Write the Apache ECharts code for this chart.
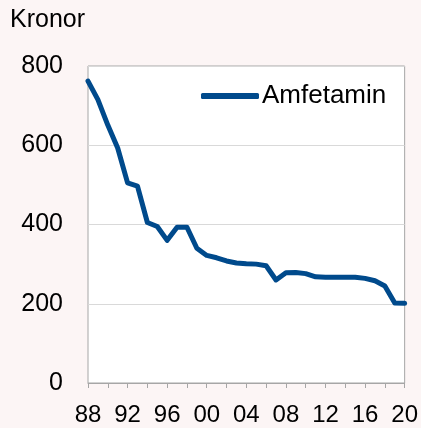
<!DOCTYPE html>
<html>
<head>
<meta charset="utf-8">
<script src="https://cdn.jsdelivr.net/npm/echarts@6/dist/echarts.min.js"></script>
<style>
html,body{margin:0;padding:0;background:#fcf5f5;}
#c{width:421px;height:428px;}
</style>
</head>
<body>
<div id="c"></div>
<script>
const years = [1988,1989,1990,1991,1992,1993,1994,1995,1996,1997,1998,1999,2000,2001,2002,2003,2004,2005,2006,2007,2008,2009,2010,2011,2012,2013,2014,2015,2016,2017,2018,2019,2020];
const amfetamin = [762,715,651,593,505,497,405,395,360,393,393,340,322,316,308,303,301,300,296,260,278,279,276,268,267,267,267,267,264,258,245,202,201];
const yTicks = [0,200,400,600,800];
const seriesName = 'Amfetamin';

const chart = echarts.init(document.getElementById('c'), null, {renderer:'canvas'});
const font = 'Liberation Sans, Arial, sans-serif';
chart.setOption({
  backgroundColor: '#fcf5f5',
  animation: false,
  textStyle: {fontFamily: font},
  title: {
    text: 'Kronor', left: 10, top: 8, padding: 0,
    textStyle: {fontSize: 25, fontWeight: 'normal', color: '#000', fontFamily: font}
  },
  legend: {
    left: 196, top: 78,
    data: [seriesName],
    icon: 'roundRect',
    itemWidth: 58, itemHeight: 6,
    itemGap: 4,
    textStyle: {fontSize: 26, color: '#000', fontFamily: font, padding: [0,0,0,-2]}
  },
  grid: {
    left: 88, right: 16, top: 66, bottom: 45,
    show: true, backgroundColor: '#fff', borderColor: '#a6a6a6', borderWidth: 1
  },
  xAxis: {
    type: 'value', min: 1988, max: 2020, interval: 2,
    axisLine: {show: true, lineStyle: {color: '#a6a6a6'}},
    axisTick: {show: true, length: 5, lineStyle: {color: '#a6a6a6'}},
    splitLine: {show: false},
    axisLabel: {
      fontSize: 24, color: '#000', margin: 20, fontFamily: font,
      formatter: v => (v % 4 === 0 ? String(v % 100).padStart(2, '0') : '')
    }
  },
  yAxis: {
    type: 'value', min: yTicks[0], max: yTicks[yTicks.length-1], interval: 200,
    axisLine: {show: false},
    axisTick: {show: false},
    splitLine: {show: true, lineStyle: {color: '#d9d9d9', width: 1}},
    axisLabel: {fontSize: 25, color: '#000', margin: 25, fontFamily: font}
  },
  series: [{
    name: seriesName,
    type: 'line',
    data: years.map((y, i) => [y, amfetamin[i]]),
    showSymbol: false,
    symbol: 'none',
    lineStyle: {color: '#004a8c', width: 5, cap: 'round', join: 'round'},
    itemStyle: {color: '#004a8c'}
  }]
});
</script>
</body>
</html>
